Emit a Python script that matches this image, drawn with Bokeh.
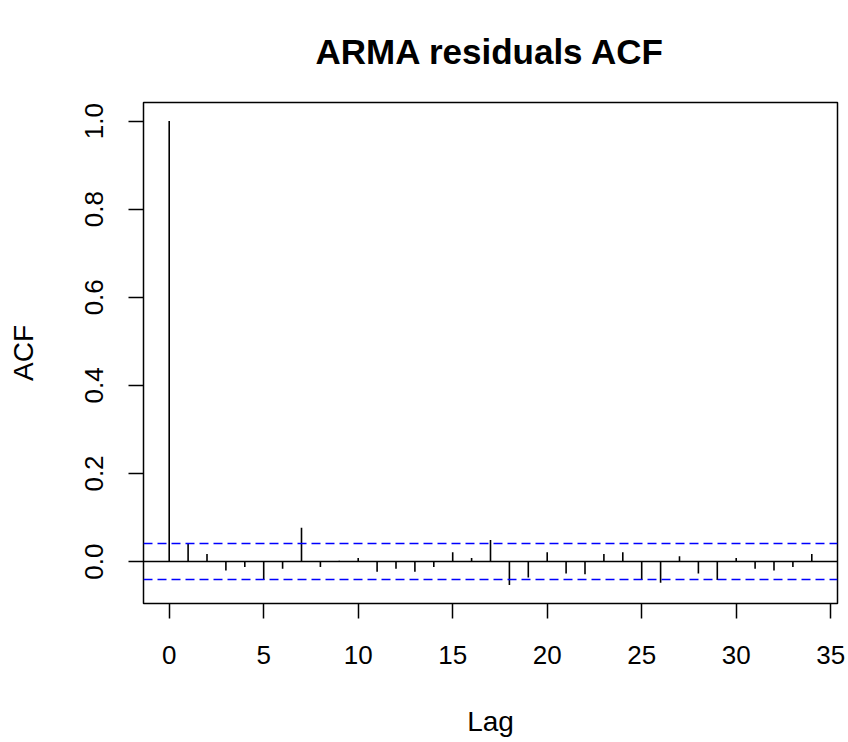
from bokeh.plotting import figure
from bokeh.models import Span, FixedTicker, PrintfTickFormatter, Range1d
from bokeh.embed import file_html
from bokeh.resources import INLINE

# Data
lags = list(range(0, 35))
acf = [1.000, 0.040, 0.017, -0.020, -0.012, -0.042, -0.016, 0.077, -0.012, 0.002,
       0.008, -0.023, -0.016, -0.023, -0.012, 0.021, 0.008, 0.049, -0.053, -0.036,
       0.021, -0.027, -0.029, 0.017, 0.021, -0.042, -0.048, 0.012, -0.027, -0.042,
       0.008, -0.016, -0.020, -0.012, 0.017]
ci = 0.0408
x_ticks = [0, 5, 10, 15, 20, 25, 30, 35]
y_ticks = [0.0, 0.2, 0.4, 0.6, 0.8, 1.0]
title_text = "ARMA residuals ACF"
x_label = "Lag"
y_label = "ACF"

# R-style 4% range extension
xmin, xmax = min(lags), max(lags)
ymin, ymax = min(min(acf), -ci), max(max(acf), ci)
xext = 0.04 * (xmax - xmin)
yext = 0.04 * (ymax - ymin)

FONT = "Liberation Sans"

p = figure(width=846, height=740, output_backend="svg", toolbar_location=None,
           x_range=Range1d(xmin - xext, xmax + xext),
           y_range=Range1d(ymin - yext, ymax + yext),
           min_border_left=143, min_border_right=9,
           min_border_top=102, min_border_bottom=137)

p.title.text = title_text
p.title.text_font = FONT
p.title.text_font_size = "35px"
p.title.text_font_style = "bold"
p.title.align = "center"
p.title.vertical_align = "top"
p.title.text_color = "black"
p.title.standoff = 60

p.grid.visible = False
p.background_fill_color = "white"
p.border_fill_color = "white"
p.outline_line_color = "black"
p.outline_line_width = 1.5

p.segment(x0=lags, y0=[0] * len(lags), x1=lags, y1=acf,
          line_color="black", line_width=1.6)

p.add_layout(Span(location=0, dimension="width", line_color="black", line_width=1.5))
for v in (ci, -ci):
    p.add_layout(Span(location=v, dimension="width", line_color="#0000FF",
                      line_width=1.5, line_dash="9 5"))

for ax in (p.xaxis[0], p.yaxis[0]):
    ax.axis_line_color = None
    ax.major_tick_line_color = "black"
    ax.major_tick_line_width = 1.5
    ax.major_tick_out = 15
    ax.major_tick_in = 0
    ax.minor_tick_line_color = None
    ax.major_label_text_font = FONT
    ax.major_label_text_font_size = "26px"
    ax.major_label_text_color = "black"
    ax.axis_label_text_font = FONT
    ax.axis_label_text_font_size = "28px"
    ax.axis_label_text_font_style = "normal"
    ax.axis_label_text_color = "black"

p.xaxis.ticker = FixedTicker(ticks=x_ticks)
p.yaxis.ticker = FixedTicker(ticks=y_ticks)
p.yaxis.formatter = PrintfTickFormatter(format="%.1f")
p.yaxis.major_label_orientation = "vertical"
p.xaxis.axis_label = x_label
p.yaxis.axis_label = y_label
p.xaxis.major_label_standoff = 27
p.yaxis.major_label_standoff = 25
p.xaxis.axis_label_standoff = 39
p.yaxis.axis_label_standoff = 44

open("out.html", "w").write(file_html(p, INLINE))
